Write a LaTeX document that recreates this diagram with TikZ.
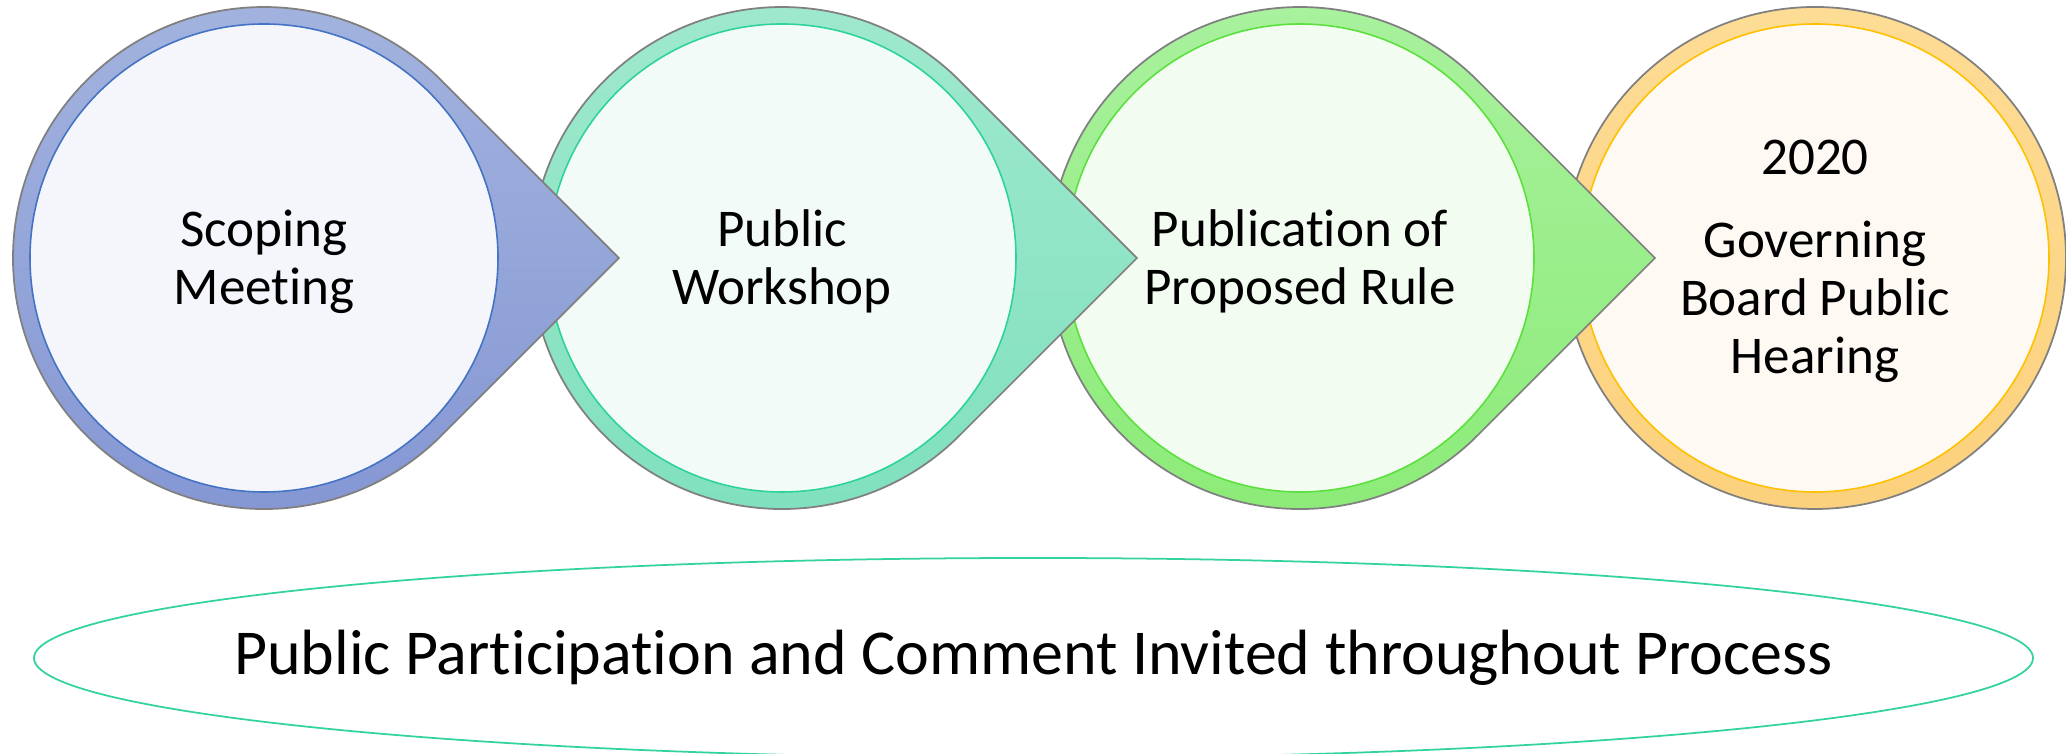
\documentclass[tikz,border=0pt]{standalone}
\usepackage{fontspec}
\setmainfont{Carlito}[Ligatures=NoCommon]
\usetikzlibrary{shapes.geometric}
\definecolor{ringAt}{HTML}{A4B4DF}\definecolor{ringAb}{HTML}{8496D3}
\definecolor{inA}{HTML}{F4F6FB}\definecolor{lnA}{HTML}{4472C4}
\definecolor{ringBt}{HTML}{A0E9CE}\definecolor{ringBb}{HTML}{7FE0BD}
\definecolor{inB}{HTML}{F2FBF8}\definecolor{lnB}{HTML}{2ED39A}
\definecolor{ringCt}{HTML}{AAF19F}\definecolor{ringCb}{HTML}{8BEB77}
\definecolor{inC}{HTML}{F3FCF1}\definecolor{lnC}{HTML}{5BE03E}
\definecolor{ringDt}{HTML}{FDDC95}\definecolor{ringDb}{HTML}{FCD17D}
\definecolor{inD}{HTML}{FEFAF3}\definecolor{lnD}{HTML}{FFC000}
\definecolor{edge}{HTML}{808080}
\definecolor{noteline}{HTML}{33D39C}
\tikzset{
  ringshape/.style={draw=edge, line width=0.5pt},
  innerdisc/.style={circle, minimum size=4.68cm, inner sep=0pt, line width=0.45pt},
  steptext/.style={align=center, inner sep=0pt, yshift=-0.035cm, font=\fontsize{15.1}{16.5}\selectfont},
  notetext/.style={inner sep=0pt, font=\fontsize{18.2}{21}\selectfont},
  noteoval/.style={draw=noteline, line width=0.5pt}
}
\begin{document}
\begin{tikzpicture}
\useasboundingbox (0,0) rectangle (20.66,7.54);
\coordinate (c1) at (2.64,4.96);
\coordinate (c2) at (7.82,4.96);
\coordinate (c3) at (13.00,4.96);
\coordinate (c4) at (18.15,4.96);
% step 4
\path[ringshape, top color=ringDt, bottom color=ringDb] (c4) circle[radius=2.51];
\node[innerdisc, fill=inD, draw=lnD] (s4) at (c4) {};
\node[steptext] (t4) at (s4.center) {2020\\[7pt]Governing\\Board Public\\Hearing};
% step 3
\path[ringshape, top color=ringCt, bottom color=ringCb] (c3) ++(45:2.51) -- ++(1.775,-1.775) -- ++(-1.775,-1.775) arc[start angle=-45, end angle=-315, radius=2.51] -- cycle;
\node[innerdisc, fill=inC, draw=lnC] (s3) at (c3) {};
\node[steptext] (t3) at (s3.center) {Publication of\\Proposed Rule};
% step 2
\path[ringshape, top color=ringBt, bottom color=ringBb] (c2) ++(45:2.51) -- ++(1.775,-1.775) -- ++(-1.775,-1.775) arc[start angle=-45, end angle=-315, radius=2.51] -- cycle;
\node[innerdisc, fill=inB, draw=lnB] (s2) at (c2) {};
\node[steptext] (t2) at (s2.center) {Public\\Workshop};
% step 1
\path[ringshape, top color=ringAt, bottom color=ringAb] (c1) ++(45:2.51) -- ++(1.775,-1.775) -- ++(-1.775,-1.775) arc[start angle=-45, end angle=-315, radius=2.51] -- cycle;
\node[innerdisc, fill=inA, draw=lnA] (s1) at (c1) {};
\node[steptext] (t1) at (s1.center) {Scoping\\Meeting};
% note
\node[notetext] (note) at (10.335,0.96) {Public Participation and Comment Invited throughout Process};
\draw[noteoval] (note.center) ellipse[x radius=9.995, y radius=1.0];
\end{tikzpicture}
\end{document}
